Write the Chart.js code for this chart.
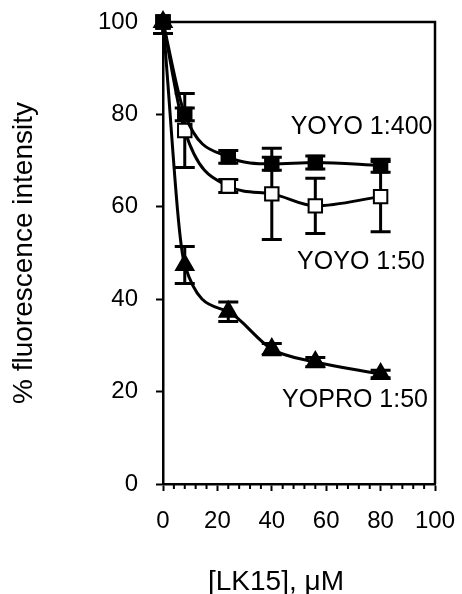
<!DOCTYPE html>
<html>
<head>
<meta charset="utf-8">
<script src="https://cdn.jsdelivr.net/npm/chart.js@4/dist/chart.umd.min.js"></script>
<style>
  html, body { margin: 0; padding: 0; background: #fff; }
</style>
</head>
<body>
<canvas id="myChart" width="462" height="594"></canvas>
<script>
// data
const concentrations = [0, 8, 24, 40, 56, 80];
const yoyo400 = [100, 80, 70.8, 69.3, 69.6, 68.9];
const yoyo400Err = [2.5, 1.4, 1.4, 1.4, 1.4, 1.4];
const yoyo50 = [100, 76.5, 64.5, 62.8, 60.2, 62.2];
const yoyo50Err = [2.5, 8, 1.4, 9.9, 6, 7.6];
const yopro50 = [100, 47.4, 37.3, 29.2, 26.4, 23.8];
const yopro50Err = [2.5, 4, 2.1, 1.2, 1.0, 0.8];

const xTicks = [0, 20, 40, 60, 80, 100];
const yTicks = [0, 20, 40, 60, 80, 100];
const xMinorStep = 4;

const seriesNames = ['YOYO 1:400', 'YOYO 1:50', 'YOPRO 1:50'];
// where the series names sit, in data units
const nameAnchors = [[73, 77.3], [72.8, 48], [70.6, 18.2]];

const FONT = "'Liberation Sans', Arial, sans-serif";

function points(ys) {
  return concentrations.map((x, i) => ({ x: x, y: ys[i] }));
}

// error bars, drawn under the markers
const errorBars = {
  id: 'errorBars',
  beforeDatasetsDraw(chart) {
    const ctx = chart.ctx;
    const xs = chart.scales.x, ys = chart.scales.y;
    const area = chart.chartArea;
    ctx.save();
    ctx.beginPath();
    ctx.rect(area.left - 20, area.top, area.right - area.left + 40, area.bottom - area.top);
    ctx.clip();
    ctx.strokeStyle = '#000';
    ctx.lineWidth = 3;
    chart.data.datasets.forEach((ds) => {
      ds.data.forEach((p, i) => {
        const e = ds.err[i];
        const px = xs.getPixelForValue(p.x);
        const top = ys.getPixelForValue(p.y + e);
        const bot = ys.getPixelForValue(p.y - e);
        ctx.beginPath();
        ctx.moveTo(px, top); ctx.lineTo(px, bot);
        ctx.moveTo(px - 10, top); ctx.lineTo(px + 10, top);
        ctx.moveTo(px - 10, bot); ctx.lineTo(px + 10, bot);
        ctx.stroke();
      });
    });
    ctx.restore();
  }
};

// box around the plot, minor ticks, axis title and series names
const frame = {
  id: 'frame',
  afterDraw(chart) {
    const ctx = chart.ctx;
    const a = chart.chartArea;
    const xs = chart.scales.x, ys = chart.scales.y;
    ctx.save();
    ctx.strokeStyle = '#000';
    ctx.lineWidth = 2.5;
    ctx.beginPath();
    ctx.moveTo(a.left, a.top); ctx.lineTo(a.right, a.top); ctx.lineTo(a.right, a.bottom);
    ctx.stroke();

    ctx.lineWidth = 2;
    for (let v = xTicks[0]; v <= xTicks[xTicks.length - 1]; v += xMinorStep) {
      if (xTicks.includes(v)) continue;
      const px = xs.getPixelForValue(v);
      ctx.beginPath();
      ctx.moveTo(px, a.bottom); ctx.lineTo(px, a.bottom + 5);
      ctx.stroke();
    }

    ctx.fillStyle = '#000';
    ctx.font = '25px ' + FONT;
    ctx.textAlign = 'center';
    ctx.textBaseline = 'middle';
    seriesNames.forEach((name, i) => {
      ctx.fillText(name, xs.getPixelForValue(nameAnchors[i][0]), ys.getPixelForValue(nameAnchors[i][1]));
    });

    ctx.font = '28px ' + FONT;
    ctx.fillText('[LK15], \u03BCM', 276, 582);
    ctx.restore();
  }
};

const baseLine = {
  showLine: true,
  borderColor: '#000',
  borderWidth: 3,
  cubicInterpolationMode: 'monotone',
  pointBorderColor: '#000',
  pointBorderWidth: 2,
  clip: false
};

const data = {
  datasets: [
    Object.assign({}, baseLine, {
      label: seriesNames[0],
      data: points(yoyo400),
      err: yoyo400Err,
      pointStyle: 'rect',
      pointRadius: 9.5,
      pointBackgroundColor: '#000'
    }),
    Object.assign({}, baseLine, {
      label: seriesNames[1],
      data: points(yoyo50),
      err: yoyo50Err,
      pointStyle: 'rect',
      pointRadius: 9.5,
      pointBackgroundColor: '#fff'
    }),
    Object.assign({}, baseLine, {
      label: seriesNames[2],
      data: points(yopro50),
      err: yopro50Err,
      pointStyle: 'triangle',
      pointRadius: 10,
      pointBackgroundColor: '#000'
    })
  ]
};

const config = {
  type: 'scatter',
  data: data,
  options: {
    responsive: false,
    animation: false,
    events: [],
    layout: {
      padding: { top: 22, right: 27, bottom: 0, left: 0 }
    },
    plugins: {
      legend: { display: false },
      tooltip: { enabled: false }
    },
    scales: {
      x: {
        type: 'linear',
        min: 0,
        max: 100,
        afterBuildTicks: (scale) => { scale.ticks = xTicks.map(v => ({ value: v })); },
        afterFit: (scale) => {
          scale.height = 110;
          scale.paddingLeft = 0;
          scale.paddingRight = 0;
        },
        border: { display: true, color: '#000', width: 2.5 },
        grid: { display: true, drawOnChartArea: false, drawTicks: true, tickLength: 7, tickColor: '#000', tickWidth: 2 },
        ticks: { color: '#000', padding: 16, maxRotation: 0, font: { family: FONT, size: 24 } }
      },
      y: {
        type: 'linear',
        min: 0,
        max: 100,
        afterBuildTicks: (scale) => { scale.ticks = yTicks.map(v => ({ value: v })); },
        afterFit: (scale) => {
          scale.width = 163;
          scale.paddingTop = 0;
          scale.paddingBottom = 0;
        },
        border: { display: true, color: '#000', width: 2.5 },
        grid: { display: true, drawOnChartArea: false, drawTicks: true, tickLength: 7, tickColor: '#000', tickWidth: 2 },
        ticks: { color: '#000', padding: 18, font: { family: FONT, size: 24 } },
        title: {
          display: true,
          text: '% fluorescence intensity',
          color: '#000',
          padding: { top: 7, bottom: 0 },
          font: { family: FONT, size: 28 }
        }
      }
    }
  },
  plugins: [errorBars, frame]
};

const myChart = new Chart(document.getElementById('myChart'), config);
</script>
</body>
</html>
